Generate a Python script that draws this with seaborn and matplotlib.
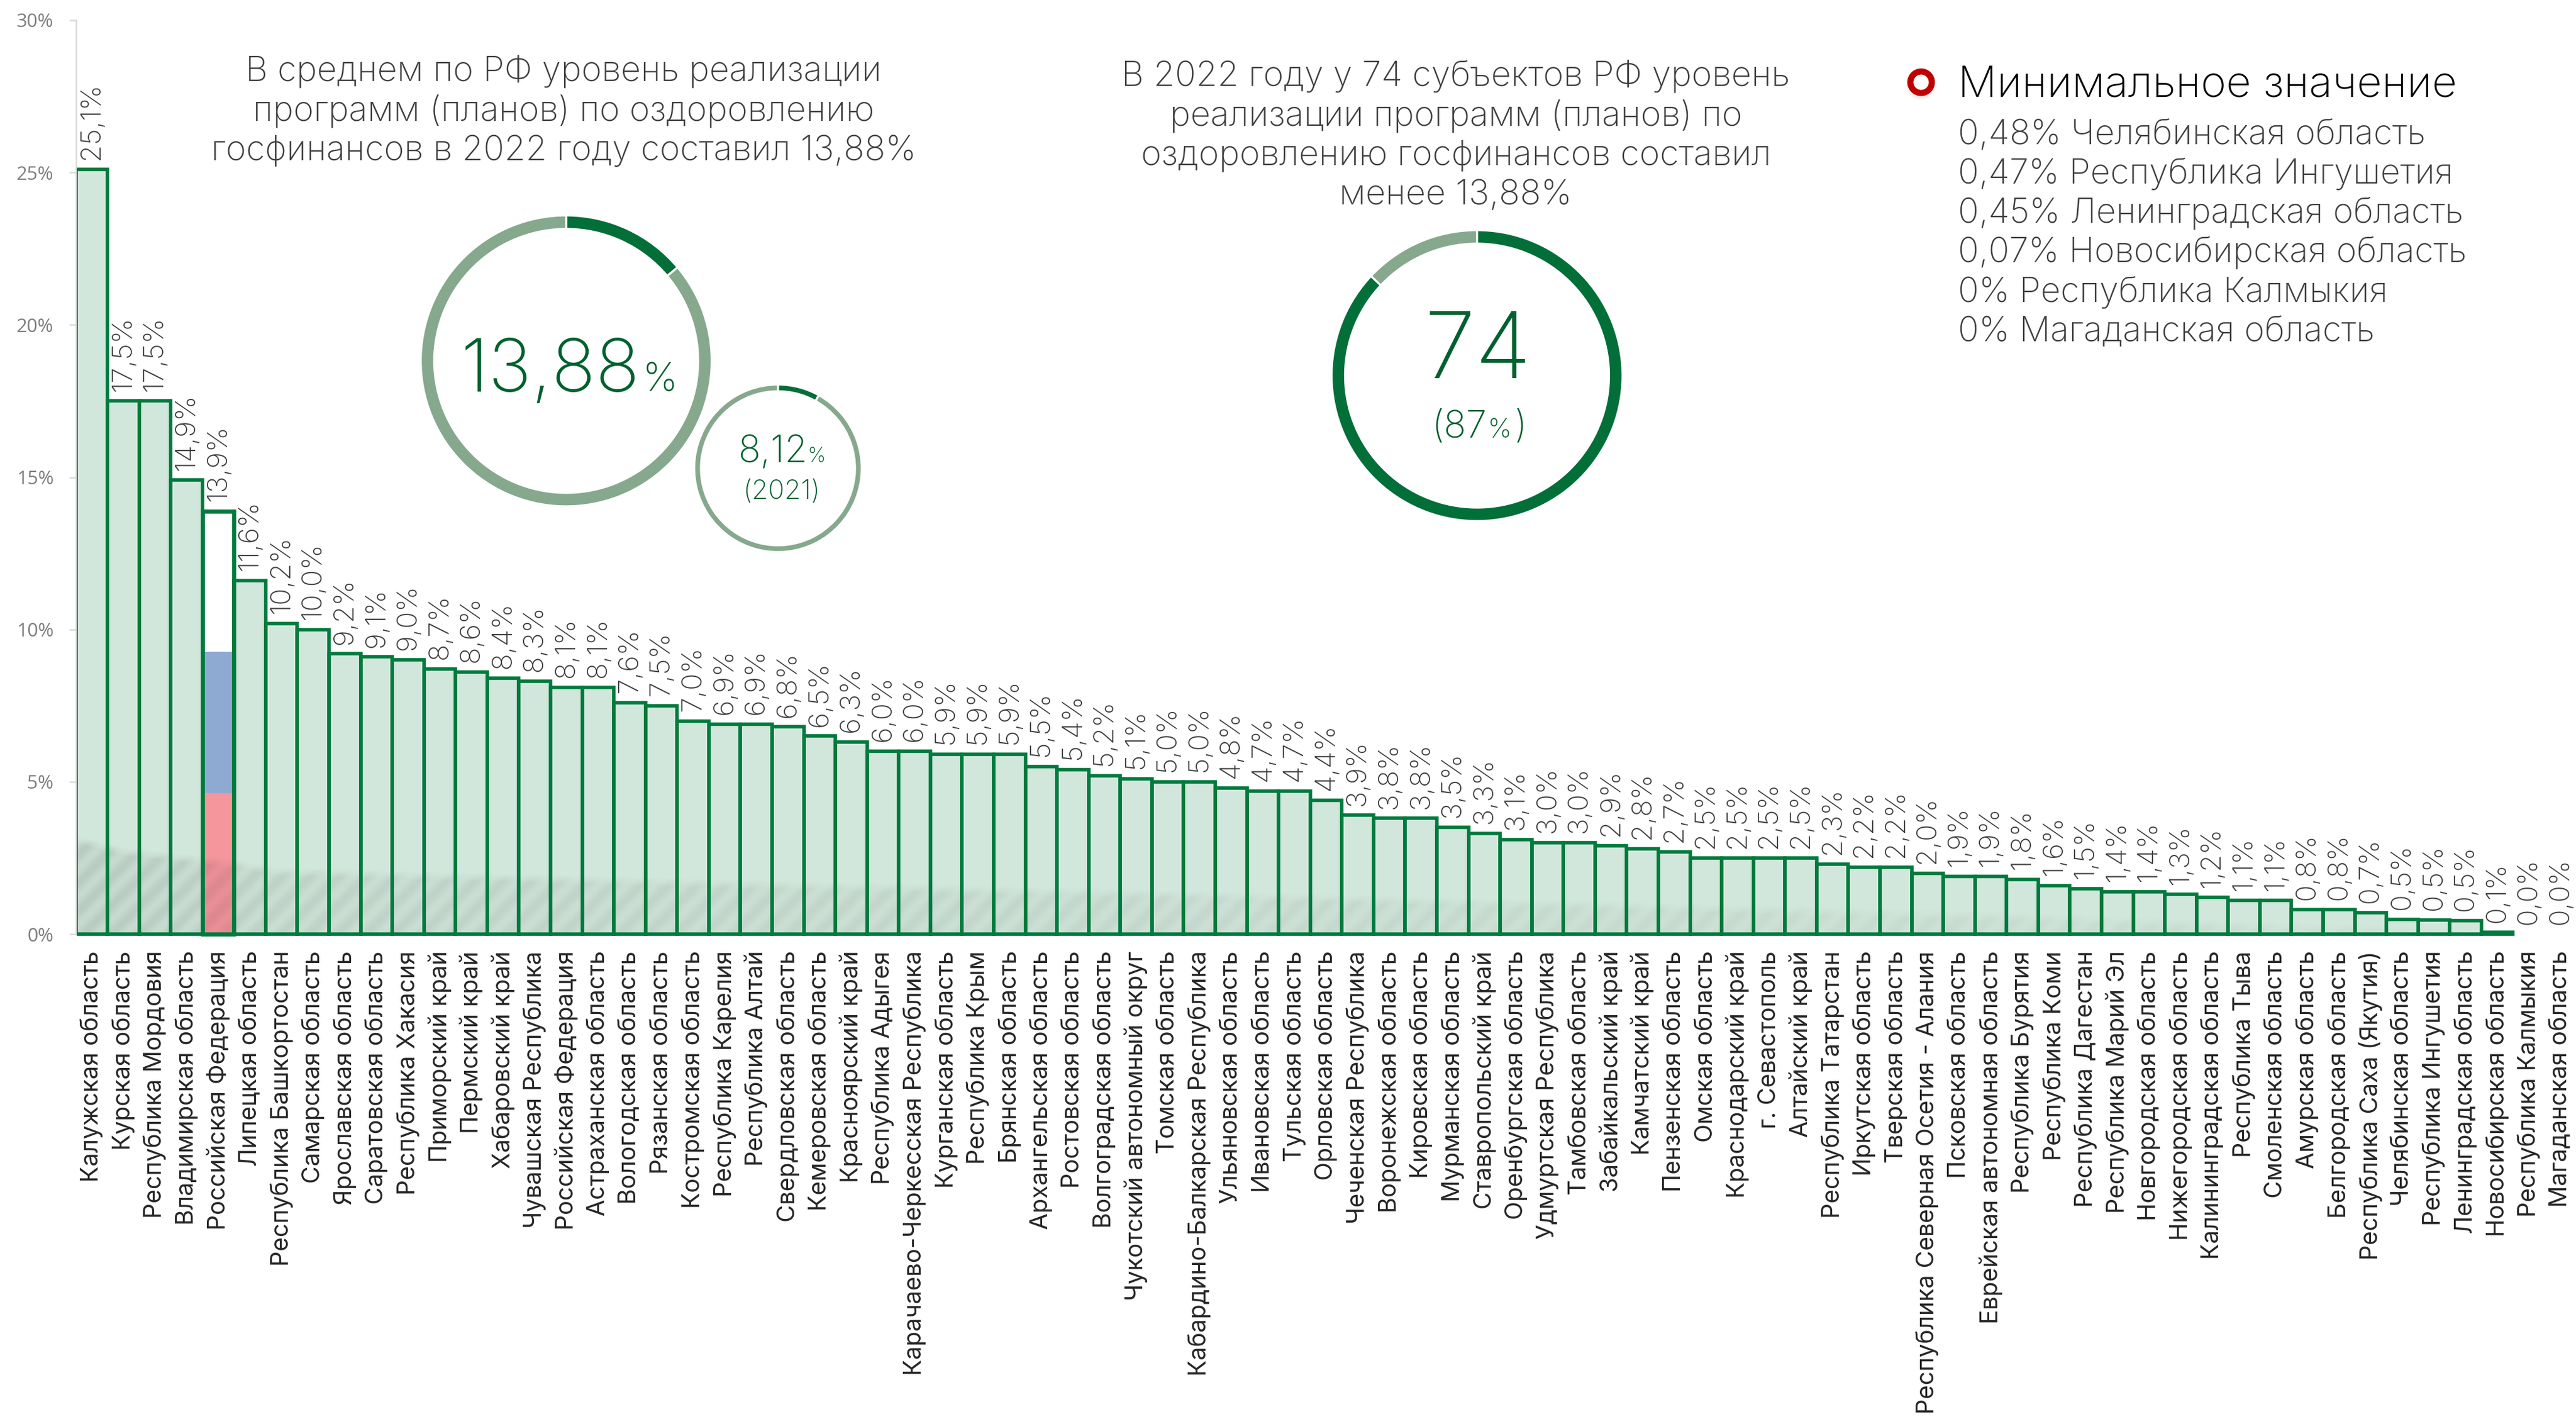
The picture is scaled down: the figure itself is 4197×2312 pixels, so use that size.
import numpy as np
import matplotlib
matplotlib.use("Agg")
import matplotlib.pyplot as plt
import matplotlib.patches as mpatches
from matplotlib.transforms import Affine2D, Bbox, TransformedBbox
import seaborn as sns

regions = ["Калужская область","Курская область","Республика Мордовия","Владимирская область","Российская Федерация",
"Липецкая область","Республика Башкортостан","Самарская область","Ярославская область","Саратовская область",
"Республика Хакасия","Приморский край","Пермский край","Хабаровский край","Чувашская Республика",
"Российская Федерация","Астраханская область","Вологодская область","Рязанская область","Костромская область",
"Республика Карелия","Республика Алтай","Свердловская область","Кемеровская область","Красноярский край",
"Республика Адыгея","Карачаево-Черкесская Республика","Курганская область","Республика Крым","Брянская область",
"Архангельская область","Ростовская область","Волгоградская область","Чукотский автономный округ","Томская область",
"Кабардино-Балкарская Республика","Ульяновская область","Ивановская область","Тульская область","Орловская область",
"Чеченская Республика","Воронежская область","Кировская область","Мурманская область","Ставропольский край",
"Оренбургская область","Удмуртская Республика","Тамбовская область","Забайкальский край","Камчатский край",
"Пензенская область","Омская область","Краснодарский край","г. Севастополь","Алтайский край",
"Республика Татарстан","Иркутская область","Тверская область","Республика Северная Осетия - Алания","Псковская область",
"Еврейская автономная область","Республика Бурятия","Республика Коми","Республика Дагестан","Республика Марий Эл",
"Новгородская область","Нижегородская область","Калининградская область","Республика Тыва","Смоленская область",
"Амурская область","Белгородская область","Республика Саха (Якутия)","Челябинская область","Республика Ингушетия",
"Ленинградская область","Новосибирская область","Республика Калмыкия","Магаданская область"]
values = [25.1,17.5,17.5,14.9,13.88,11.6,10.2,10.0,9.2,9.1,9.0,8.7,8.6,8.4,8.3,8.1,8.1,7.6,7.5,7.0,6.9,6.9,6.8,6.5,6.3,
6.0,6.0,5.9,5.9,5.9,5.5,5.4,5.2,5.1,5.0,5.0,4.8,4.7,4.7,4.4,3.9,3.8,3.8,3.5,3.3,3.1,3.0,3.0,2.9,2.8,2.7,2.5,2.5,2.5,2.5,
2.3,2.2,2.2,2.0,1.9,1.9,1.8,1.6,1.5,1.4,1.4,1.3,1.2,1.1,1.1,0.8,0.8,0.7,0.48,0.47,0.45,0.07,0.0,0.0]
rf_index = 4
rf_levels = [13.88, 9.26, 4.63]
rf_colors = ["#FFFFFF", "#8EAAD3", "#F5959C"]
y_ticks = [0, 5, 10, 15, 20, 25, 30]

avg_2022 = [13.88, 86.12]
avg_2021 = [8.12, 91.88]
subjects = [87, 13]
text_avg = ["В среднем по РФ уровень реализации", "программ (планов) по оздоровлению", "госфинансов в 2022 году составил 13,88%"]
text_subj = ["В 2022 году у 74 субъектов РФ уровень", "реализации программ (планов) по", "оздоровлению госфинансов составил", "менее 13,88%"]
min_title = "Минимальное значение"
min_lines = ["0,48% Челябинская область","0,47% Республика Ингушетия","0,45% Ленинградская область",
             "0,07% Новосибирская область","0% Республика Калмыкия","0% Магаданская область"]

W, H = 4197, 2312
FILL, EDGE = "#D2E7DB", "#007A3D"
DARK, LIGHT = "#026E38", "#86A88D"
GREY = "#3F3F3F"
DEEP = "#00602E"
FONT = ["Inter", "DejaVu Sans"]

sns.set_theme(style="white")
plt.rcParams["font.family"] = FONT
fig = plt.figure(figsize=(W / 300, H / 300), dpi=300, facecolor="white")
PX = Affine2D().scale(1 / W, -1 / H).translate(0, 1) + fig.transFigure

L, R, T, B = 123.5, 4197.5, 33, 1522
ax = fig.add_axes([L / W, 1 - B / H, (R - L) / W, (B - T) / H])
pos = np.arange(len(values))

# fill
sns.barplot(x=pos, y=values, native_scale=True, width=1, color=FILL, saturation=1,
            linewidth=0, ax=ax, zorder=1)
# tricolour for the federal bar
for lvl, col in zip(rf_levels, rf_colors):
    sns.barplot(x=[pos[rf_index]], y=[lvl], native_scale=True, width=1, color=col, saturation=1,
                linewidth=0, ax=ax, zorder=1.5)

# soft diagonal shadow along the bottom of the bars (decoration)
nx, ny = 3000, 300
xs = np.linspace(-0.5, 78.5, nx)
ys = np.linspace(0, 3.6, ny)
XX, YY = np.meshgrid(xs, ys)
xp = (XX + 0.5) * 51.57
yp = YY * 49.67
top = np.interp(XX, [-0.5, 1, 4.5, 6, 20, 40, 60, 72, 77], [3.25, 2.85, 2.45, 2.2, 1.8, 1.3, 0.75, 0.3, 0.0])
edge = np.clip((top - YY) / 0.3, 0, 1)
stripes = 0.5 + 0.5 * np.sin((xp - yp) * 2 * np.pi / 46)
strength = np.interp(XX, [-0.5, 6, 40, 77], [1.35, 1.0, 0.7, 0.45])
alpha = edge * (0.055 + 0.06 * stripes) * strength
rgba = np.zeros((ny, nx, 4))
rgba[..., :3] = 0.2
rgba[..., 3] = alpha
ax.imshow(rgba, origin="lower", extent=[-0.5, 78.5, 0, 3.6], aspect="auto", zorder=2, interpolation="bilinear")

# outlines
n_before = len(ax.containers)
sns.barplot(x=pos, y=values, native_scale=True, width=1, facecolor="none", edgecolor=EDGE,
            linewidth=1.35, ax=ax, zorder=3)
outline = ax.containers[n_before]
for p, v in zip(outline.patches, values):
    p.set_clip_on(False)
    if v == 0:
        p.set_visible(False)
first = outline.patches[0]
first.set_clip_on(True)
first.set_clip_box(TransformedBbox(Bbox([[-0.47, -1], [2, 31]]), ax.transData))
outline.patches[rf_index].set_linewidth(1.6)
outline.patches[rf_index].set_zorder(3.5)

labels = [f"{v:.1f}".replace(".", ",") + "%" for v in values]
ax.bar_label(outline, labels=labels, rotation=90, padding=3.8, fontsize=11, color=GREY, clip_on=False,
             fontweight="light")

ax.set_xlim(-0.5, 78.5)
ax.set_ylim(0, 30)
ax.set_xticks(pos)
ax.set_xticklabels(regions, rotation=90, ha="center", va="top", fontsize=9.4, color="#262626")
ax.tick_params(axis="x", length=0, pad=6.5)
ax.set_yticks(y_ticks)
ax.set_yticklabels([f"{t}%" for t in y_ticks], fontsize=7.4, color="#7F7F7F", family=["Open Sans", "DejaVu Sans"])
ax.tick_params(axis="y", left=True, length=2.7, width=0.6, color="#D9D9D9", pad=6)
for s in ["top", "right", "bottom"]:
    ax.spines[s].set_visible(False)
ax.spines["left"].set_color("#D9D9D9")
ax.spines["left"].set_linewidth(0.6)
ax.grid(False)
ax.patch.set_alpha(0)


def donut(cx, cy, radius, ring, vals, cols):
    a = fig.add_axes([(cx - radius) / W, 1 - (cy + radius) / H, 2 * radius / W, 2 * radius / H])
    a.pie(vals, colors=cols, startangle=90, counterclock=False, radius=1,
          wedgeprops=dict(width=ring / radius, edgecolor="white", linewidth=0.8))
    a.set_xlim(-1, 1)
    a.set_ylim(-1, 1)
    a.set_aspect("auto")
    a.axis("off")
    a.patch.set_alpha(0)


donut(922.5, 588, 237, 22, avg_2022, [DARK, LIGHT])
donut(1267.5, 763, 136.5, 11, avg_2021, [DARK, LIGHT])
donut(2406.5, 612, 237, 22, subjects, [DARK, LIGHT])


def txt(x, y, s, size, color=GREY, ha="left", weight="light"):
    return fig.text(x, y, s, transform=PX, fontsize=size, color=color, ha=ha, va="baseline",
                    family=FONT, fontweight=weight)


for s, y in zip(text_avg, [132, 196, 261]):
    txt(918, y, s, 13.5, ha="center")
for s, y in zip(text_subj, [141, 205, 269, 333]):
    txt(2372, y, s, 13.6, ha="center")

txt(750, 638, "13,88", 28.5, color=DEEP)
txt(1046, 638, "%", 15.5, color=DEEP)
txt(1203, 753, "8,12", 14.5, color=DEEP)
txt(1316, 753, "%", 8, color=DEEP)
txt(1273, 813, "(2021)", 10.5, color=DEEP, ha="center")
txt(2408, 616, "74", 36, color=DEEP, ha="center")
txt(2332, 713, "(87", 14.5, color=DEEP)
txt(2423, 713, "%", 10.5, color=DEEP)
txt(2467, 713, ")", 14.5, color=DEEP)

# minimum-value list
for k, al in enumerate([0.04, 0.05, 0.06]):
    fig.add_artist(mpatches.Circle((3130, 140), radius=24 - 2 * k, transform=PX, fc="#808080", ec="none",
                                   alpha=al, zorder=1))
fig.add_artist(mpatches.Circle((3130, 134), radius=17.5, transform=PX, fc="white", ec="#C00000", lw=2.4, zorder=2))
txt(3190, 158, min_title, 17, color="#000000")
for s, y in zip(min_lines, [235, 299, 363, 427, 492, 556]):
    txt(3190, y, s, 13.5)

fig.savefig("out.png", dpi=300, facecolor="white")
